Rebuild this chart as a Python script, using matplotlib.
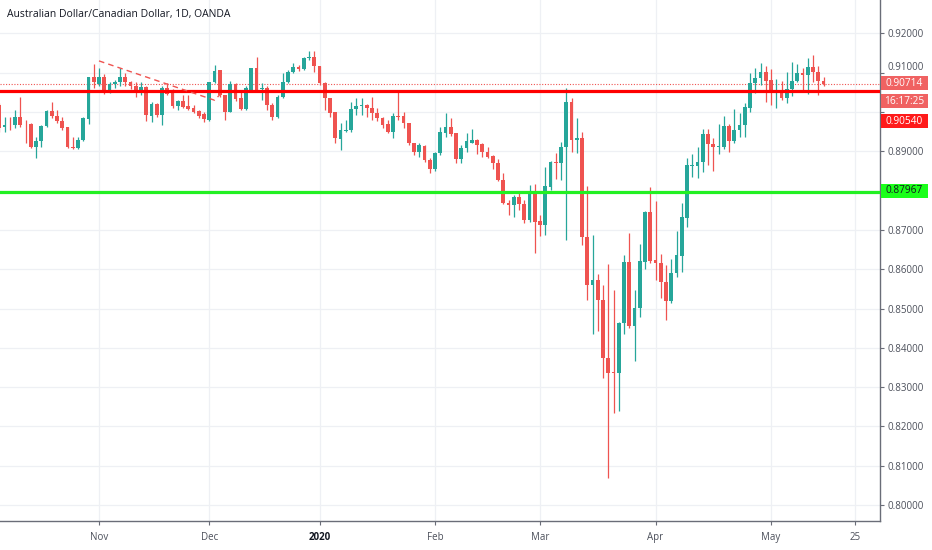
import numpy as np
import pandas as pd
import matplotlib
matplotlib.use("Agg")
import matplotlib.pyplot as plt
from matplotlib.patches import Rectangle
from matplotlib.transforms import IdentityTransform

# ---------------- data ----------------
title = "Australian Dollar/Canadian Dollar, 1D, OANDA"
holidays = ["2019-12-25", "2020-01-01"]

opens = [0.9018, 0.8961, 0.8965, 0.8967, 0.8988, 0.8970, 0.8970, 0.8910, 0.8925, 0.8965,
         0.9003, 0.8990, 0.8978, 0.8961, 0.8912, 0.8908, 0.8929, 0.8982, 0.9088,
         0.9071, 0.9088, 0.9054, 0.9070, 0.9076, 0.9088, 0.9076, 0.9067, 0.9056, 0.9063,
         0.8991, 0.9020, 0.8992, 0.9060, 0.9056, 0.9016, 0.9028, 0.9015, 0.9011, 0.9003,
         0.8994, 0.8980, 0.9076, 0.9107, 0.9042, 0.9001, 0.9070, 0.9035, 0.9008, 0.9056,
         0.9113, 0.9059, 0.9060, 0.9018, 0.8988, 0.9037, 0.9077, 0.9101, 0.9114, 0.9109,
         0.9137, 0.9141, 0.9118, 0.9073, 0.9035, 0.8999, 0.8931, 0.8952, 0.8954, 0.9008,
         0.9015, 0.9018, 0.9011, 0.8997, 0.8986, 0.8970, 0.8948, 0.8991, 0.8991, 0.8971,
         0.8920, 0.8897, 0.8914, 0.8878, 0.8855, 0.8895, 0.8947, 0.8961, 0.8946, 0.8880,
         0.8908, 0.8922, 0.8929, 0.8918, 0.8899, 0.8888, 0.8869, 0.8827, 0.8769, 0.8763,
         0.8783, 0.8766, 0.8725, 0.8800, 0.8723, 0.8713, 0.8810, 0.8872, 0.8869, 0.8910,
         0.9026, 0.8929, 0.8933, 0.8683, 0.8560, 0.8573, 0.8522, 0.8373, 0.8339, 0.8335,
         0.8462, 0.8619, 0.8456, 0.8501, 0.8619, 0.8746, 0.8624, 0.8617, 0.8568, 0.8518,
         0.8591, 0.8634, 0.8730, 0.8863, 0.8863, 0.8874, 0.8944, 0.8919, 0.8912, 0.8912,
         0.8965, 0.8925, 0.8954, 0.8967, 0.9009, 0.9073, 0.9086, 0.9102, 0.9082, 0.9048,
         0.9054, 0.9035, 0.9058, 0.9080, 0.9098, 0.9094, 0.9114, 0.9103, 0.9080]
highs = [0.9022, 0.8988, 0.8988, 0.9005, 0.9039, 0.8980, 0.8971, 0.8936, 0.8967, 0.9005,
         0.9025, 0.9005, 0.8988, 0.8963, 0.8936, 0.8936, 0.8988, 0.9088, 0.9122,
         0.9111, 0.9097, 0.9077, 0.9082, 0.9111, 0.9099, 0.9080, 0.9076, 0.9076, 0.9065,
         0.9025, 0.9022, 0.9065, 0.9073, 0.9058, 0.9031, 0.9043, 0.9042, 0.9018, 0.9005,
         0.9001, 0.9077, 0.9120, 0.9107, 0.9043, 0.9079, 0.9073, 0.9052, 0.9065, 0.9113,
         0.9141, 0.9073, 0.9065, 0.9022, 0.9043, 0.9098, 0.9107, 0.9124, 0.9120, 0.9141,
         0.9154, 0.9154, 0.9118, 0.9077, 0.9035, 0.9001, 0.8971, 0.8980, 0.9026, 0.9035,
         0.9035, 0.9020, 0.9039, 0.9009, 0.8988, 0.8980, 0.8997, 0.9052, 0.9001, 0.8971,
         0.8922, 0.8922, 0.8916, 0.8882, 0.8899, 0.8963, 0.8997, 0.8986, 0.8947, 0.8916,
         0.8947, 0.8956, 0.8931, 0.8920, 0.8912, 0.8891, 0.8880, 0.8846, 0.8776, 0.8789,
         0.8793, 0.8776, 0.8814, 0.8818, 0.8738, 0.8859, 0.8876, 0.8895, 0.8924, 0.9060,
         0.9035, 0.8984, 0.8950, 0.8812, 0.8687, 0.8587, 0.8560, 0.8614, 0.8548, 0.8465,
         0.8636, 0.8693, 0.8547, 0.8664, 0.8748, 0.8810, 0.8774, 0.8639, 0.8611, 0.8625,
         0.8696, 0.8768, 0.8882, 0.8893, 0.8912, 0.8956, 0.8956, 0.8933, 0.8970, 0.8990,
         0.8970, 0.9007, 0.8997, 0.9024, 0.9100, 0.9111, 0.9124, 0.9117, 0.9109, 0.9083,
         0.9080, 0.9103, 0.9126, 0.9122, 0.9111, 0.9137, 0.9145, 0.9117, 0.9088]
lows = [0.8950, 0.8950, 0.8954, 0.8959, 0.8963, 0.8920, 0.8908, 0.8882, 0.8912, 0.8963,
        0.8984, 0.8973, 0.8953, 0.8908, 0.8905, 0.8905, 0.8925, 0.8970, 0.9060,
        0.9065, 0.9046, 0.9048, 0.9060, 0.9065, 0.9065, 0.9058, 0.9039, 0.9043, 0.8976,
        0.8975, 0.8988, 0.8967, 0.9043, 0.9009, 0.9005, 0.9009, 0.9005, 0.8997, 0.8986,
        0.8975, 0.8977, 0.9073, 0.9037, 0.8980, 0.9001, 0.9028, 0.9005, 0.9005, 0.9052,
        0.9052, 0.9031, 0.9005, 0.8980, 0.8984, 0.9035, 0.9073, 0.9098, 0.9104, 0.9107,
        0.9132, 0.9103, 0.9069, 0.9005, 0.8988, 0.8920, 0.8903, 0.8948, 0.8950, 0.8992,
        0.8992, 0.8988, 0.8980, 0.8977, 0.8959, 0.8946, 0.8933, 0.8980, 0.8959, 0.8916,
        0.8891, 0.8886, 0.8874, 0.8844, 0.8850, 0.8891, 0.8936, 0.8939, 0.8869, 0.8871,
        0.8899, 0.8920, 0.8893, 0.8886, 0.8882, 0.8854, 0.8825, 0.8766, 0.8738, 0.8732,
        0.8751, 0.8717, 0.8721, 0.8641, 0.8685, 0.8687, 0.8802, 0.8829, 0.8827, 0.8675,
        0.8899, 0.8895, 0.8662, 0.8522, 0.8434, 0.8443, 0.8323, 0.8068, 0.8233, 0.8240,
        0.8435, 0.8450, 0.8367, 0.8478, 0.8600, 0.8615, 0.8573, 0.8526, 0.8471, 0.8515,
        0.8579, 0.8594, 0.8707, 0.8834, 0.8831, 0.8848, 0.8865, 0.8851, 0.8893, 0.8905,
        0.8899, 0.8920, 0.8936, 0.8936, 0.9001, 0.9048, 0.9069, 0.9026, 0.9018, 0.9009,
        0.9031, 0.9022, 0.9041, 0.9077, 0.9052, 0.9046, 0.9077, 0.9043, 0.9065]
closes = [0.8959, 0.8967, 0.8964, 0.8988, 0.8967, 0.8969, 0.8910, 0.8927, 0.8965, 0.9003,
          0.8990, 0.8976, 0.8959, 0.8910, 0.8909, 0.8929, 0.8984, 0.9088, 0.9076,
          0.9088, 0.9052, 0.9070, 0.9076, 0.9088, 0.9076, 0.9066, 0.9056, 0.9063, 0.8992,
          0.9020, 0.8992, 0.9060, 0.9045, 0.9016, 0.9028, 0.9014, 0.9008, 0.9001, 0.8991,
          0.8982, 0.9076, 0.9104, 0.9042, 0.9001, 0.9070, 0.9033, 0.9008, 0.9060, 0.9113,
          0.9056, 0.9062, 0.9018, 0.8988, 0.9039, 0.9077, 0.9103, 0.9115, 0.9109, 0.9137,
          0.9140, 0.9118, 0.9073, 0.9035, 0.8997, 0.8933, 0.8954, 0.8955, 0.9008, 0.9016,
          0.9018, 0.9009, 0.8997, 0.8984, 0.8967, 0.8948, 0.8991, 0.8988, 0.8971, 0.8920,
          0.8897, 0.8916, 0.8878, 0.8855, 0.8895, 0.8948, 0.8961, 0.8944, 0.8880, 0.8908,
          0.8925, 0.8929, 0.8916, 0.8897, 0.8885, 0.8869, 0.8827, 0.8768, 0.8763, 0.8783,
          0.8766, 0.8725, 0.8800, 0.8721, 0.8713, 0.8812, 0.8872, 0.8869, 0.8910, 0.9026,
          0.8929, 0.8933, 0.8683, 0.8560, 0.8573, 0.8522, 0.8373, 0.8336, 0.8335, 0.8464,
          0.8619, 0.8456, 0.8501, 0.8622, 0.8746, 0.8622, 0.8617, 0.8568, 0.8518, 0.8591,
          0.8636, 0.8732, 0.8865, 0.8866, 0.8874, 0.8944, 0.8919, 0.8912, 0.8914, 0.8965,
          0.8925, 0.8954, 0.8967, 0.9012, 0.9075, 0.9086, 0.9102, 0.9080, 0.9048, 0.9056,
          0.9035, 0.9058, 0.9080, 0.9098, 0.9094, 0.9114, 0.9103, 0.9080, 0.90714]

resistance = 0.90540
support = 0.87967
last_price = 0.90714
countdown = "16:17:25"

trend_dates = ["2019-11-01", "2019-12-03", "2019-12-04"]
trend_prices = [0.9130, 0.9030, 0.9044]

tick_dates = ["2019-11-01", "2019-12-02", "2020-01-02", "2020-02-03",
              "2020-03-02", "2020-04-01", "2020-05-01", "2020-05-25"]
tick_labels = ["Nov", "Dec", "2020", "Feb", "Mar", "Apr", "May", "25"]
y_ticks = [0.80, 0.81, 0.82, 0.83, 0.84, 0.85, 0.86, 0.87, 0.88, 0.89, 0.90, 0.91, 0.92]
# y labels hidden behind the price-label boxes in the reference
y_hidden = [0.88, 0.90]

# ---------------- build ----------------
all_days = pd.bdate_range("2019-10-07", "2020-06-05")
all_days = all_days[~all_days.isin(pd.to_datetime(holidays))]
n = len(opens)
dates = all_days[:n]
df = pd.DataFrame({"open": opens, "high": highs, "low": lows, "close": closes}, index=dates)
pos = {d: i for i, d in enumerate(all_days)}
x = np.arange(n)

UP = "#26a69a"
DN = "#ef5350"
TXT = "#4c505b"
FONT = ["Open Sans", "DejaVu Sans"]

W, H = 932, 550
fig = plt.figure(figsize=(W / 100, H / 100), dpi=100)
fig.patch.set_facecolor("white")
ax_left, ax_right, ax_bottom = 0, 880, 521
ax = fig.add_axes([ax_left / W, 1 - ax_bottom / H, (ax_right - ax_left) / W, ax_bottom / H])
ax.set_facecolor("white")

# candles
up = df["close"].values >= df["open"].values
colors = np.where(up, UP, DN)
body_lo = np.minimum(df["open"].values, df["close"].values)
body_h = np.maximum(np.abs(df["close"].values - df["open"].values), 0.00012)
ax.vlines(x, df["low"].values, df["high"].values, colors=colors, linewidth=0.9, zorder=3)
ax.bar(x, body_h, bottom=body_lo, width=0.68, color=colors, linewidth=0, zorder=4)

# horizontal levels
ax.axhline(resistance, color="#ff0000", linewidth=2.3, zorder=5)
ax.axhline(support, color="#22f022", linewidth=2.3, zorder=5)
ax.axhline(last_price, color=DN, linewidth=0.8, linestyle=(0, (1, 1.5)), zorder=2)

# trendline (dashed)
tx = [pos[pd.Timestamp(d)] for d in trend_dates]
ax.plot(tx, trend_prices, color="#ef5350", linewidth=1.0, linestyle=(0, (4, 3)), zorder=6)

# axes
ax.set_xlim(0.14, 167.76)
ax.set_ylim(0.79593, 0.92850)
xt = [pos[pd.Timestamp(d)] for d in tick_dates]
ax.set_xticks(xt)
ax.set_xticklabels(tick_labels)
ax.set_yticks(y_ticks)
ax.set_yticklabels(["" if any(abs(v - h) < 1e-9 for h in y_hidden) else f"{v:.5f}"
                    for v in y_ticks])
ax.yaxis.tick_right()
ax.grid(True, color="#eef0f4", linewidth=0.9, zorder=0)
ax.set_axisbelow(True)
for s in ["top", "left"]:
    ax.spines[s].set_visible(False)
for s in ["right", "bottom"]:
    ax.spines[s].set_color("#6a6d78")
    ax.spines[s].set_linewidth(1.0)
ax.tick_params(axis="both", colors="#6a6d78", length=3, width=0.8, labelcolor=TXT,
               labelsize=7.0)
ax.tick_params(axis="y", pad=2.5)
ax.tick_params(axis="x", pad=5.0)
for lab in ax.get_xticklabels() + ax.get_yticklabels():
    lab.set_family(FONT)
for lab in ax.get_xticklabels():
    if lab.get_text() == "2020":
        lab.set_fontweight("bold")
        lab.set_color("#131722")
# 0.91000 label sits just above the last-price box, partly covered in the reference
for lab in ax.get_yticklabels():
    if lab.get_text() == "0.91000":
        lab.set_verticalalignment("bottom")

fig.text(7 / W, 1 - 14 / H, title, fontsize=7.5, color="#131722", family=FONT,
         ha="left", va="center")

# price label boxes (drawn in pixel coordinates)
fig.canvas.draw()
ident = IdentityTransform()


def price_box(y_center, text, fc, tc):
    bx0, bw, bh = ax_right + 1, 47, 14
    r = Rectangle((bx0, y_center - bh / 2), bw, bh, facecolor=fc, edgecolor="none",
                  transform=ident, zorder=10)
    fig.add_artist(r)
    fig.text(bx0 + bw / 2, y_center, text, transform=ident, ha="center", va="center",
             fontsize=7.3, color=tc, family=FONT, zorder=11)


y_last = ax.transData.transform((0, last_price))[1] + 0.5
price_box(y_last, f"{last_price:.5f}", "#f06262", "white")
price_box(y_last - 18, countdown, "#f06262", "white")
price_box(y_last - 38, f"{resistance:.5f}", "#ff1a1a", "white")
y_sup = ax.transData.transform((0, support))[1] + 1
price_box(y_sup, f"{support:.5f}", "#1aff1a", "#131722")

fig.savefig("out.png", dpi=100, facecolor="white")
